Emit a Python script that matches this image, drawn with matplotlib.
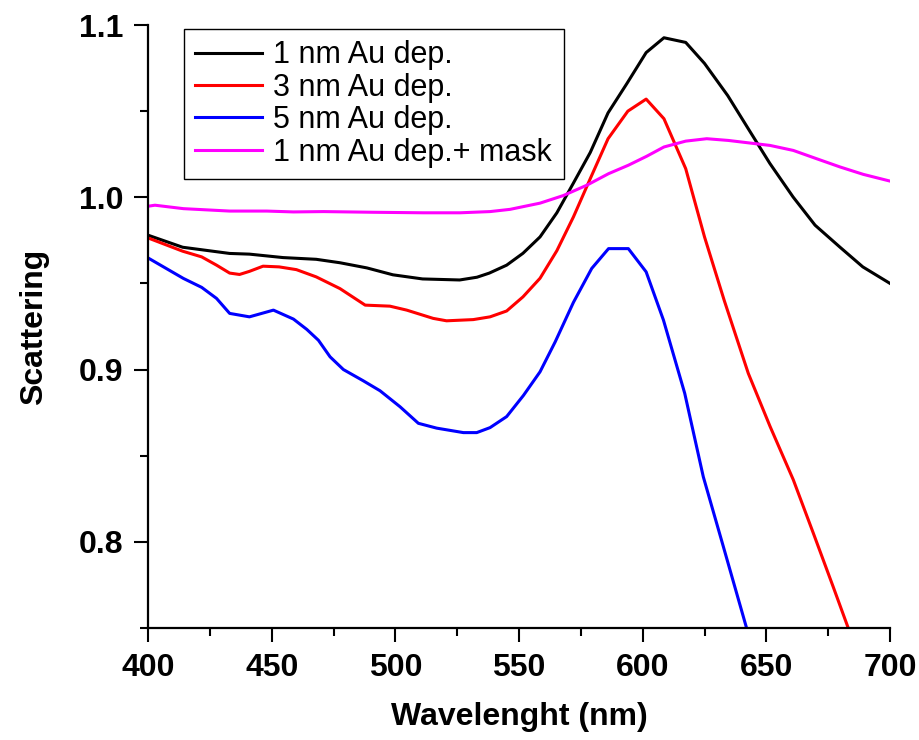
import matplotlib
matplotlib.use('Agg')
import matplotlib.pyplot as plt
from matplotlib.ticker import MultipleLocator

# scattering spectra, read per series
wl_1nm = [400, 414, 433, 441, 454.6, 468, 477.6, 488.5, 499, 511, 526, 533, 538, 545,
          551.6, 558.5, 565.3, 571.9, 578.8, 586, 593.6, 601.4, 608.6, 617.4, 625,
          634.4, 642.6, 651.4, 660.8, 669.7, 679.8, 689, 700]
sc_1nm = [0.978, 0.971, 0.9674, 0.967, 0.965, 0.964, 0.962, 0.959, 0.955, 0.9526, 0.952,
          0.9536, 0.956, 0.9606, 0.9675, 0.977, 0.991, 1.008, 1.026, 1.049, 1.066, 1.084,
          1.0926, 1.0899, 1.0777, 1.059, 1.040, 1.0197, 1.0002, 0.9838, 0.971, 0.9596, 0.950]

wl_3nm = [400, 414, 421.7, 427.7, 433, 437, 441, 446.5, 453, 460, 468, 477.6, 487.8,
          497.8, 504.6, 515.3, 520.7, 531.5, 538.3, 545, 551.6, 558.5, 565.3, 572,
          578.8, 586, 594, 601.4, 608.6, 617.4, 625, 633, 642.7, 651.5, 660.9, 669,
          677, 683.1]
sc_3nm = [0.9764, 0.9687, 0.9654, 0.9606, 0.956, 0.9552, 0.957, 0.960, 0.9596, 0.958,
          0.9538, 0.947, 0.9374, 0.9368, 0.9345, 0.9297, 0.9283, 0.929, 0.9306, 0.934,
          0.9422, 0.953, 0.969, 0.9886, 1.0108, 1.034, 1.050, 1.057, 1.0456, 1.0166,
          0.977, 0.940, 0.8978, 0.867, 0.836, 0.805, 0.774, 0.750]

wl_5nm = [400, 414.3, 421.7, 427.7, 433, 441, 450.7, 458.8, 464.2, 468.9, 473.6, 479,
          487, 493.8, 501.9, 509.3, 516.7, 527.5, 532.9, 538.3, 545, 551.8, 558.5,
          564.6, 572, 579.4, 586.2, 594.2, 601.4, 608.4, 617, 624.5, 632.6, 642]
sc_5nm = [0.9648, 0.9529, 0.9477, 0.9413, 0.9326, 0.9306, 0.9345, 0.9293, 0.9233,
          0.917, 0.9074, 0.900, 0.8935, 0.8877, 0.8784, 0.8688, 0.866, 0.8634, 0.8634,
          0.8663, 0.8727, 0.885, 0.8987, 0.916, 0.939, 0.9587, 0.9702, 0.9702, 0.9567,
          0.9287, 0.8862, 0.8378, 0.7973, 0.750]

wl_mask = [400, 402.8, 414.3, 433, 448, 458.8, 470.9, 491, 511.3, 526.2, 538.3, 546.4,
           558.5, 567.9, 577.4, 586.2, 594.2, 601.6, 608.6, 617.4, 625.9, 634.6, 651.5,
           660.9, 670.3, 679.8, 689.2, 700]
sc_mask = [0.9948, 0.9954, 0.9934, 0.992, 0.992, 0.9915, 0.9917, 0.9913, 0.991, 0.991,
           0.9917, 0.993, 0.9966, 1.001, 1.007, 1.0137, 1.0186, 1.0238, 1.0292, 1.0326,
           1.034, 1.033, 1.0301, 1.0272, 1.0224, 1.0176, 1.0133, 1.0094]

labels = ['1 nm Au dep.', '3 nm Au dep.', '5 nm Au dep.', '1 nm Au dep.+ mask']
colors = ['black', 'red', 'blue', 'magenta']

plt.rcParams['font.family'] = ['Liberation Sans', 'DejaVu Sans']

fig = plt.figure(figsize=(9.2, 7.4), dpi=100)
ax = fig.add_axes([0.1609, 0.1514, 0.8065, 0.8148])

series = [(wl_1nm, sc_1nm), (wl_3nm, sc_3nm), (wl_5nm, sc_5nm), (wl_mask, sc_mask)]
for (x, y), lab, col in zip(series, labels, colors):
    ax.plot(x, y, color=col, lw=2.2, label=lab)

ax.set_xlim(400, 700)
ax.set_ylim(0.75, 1.1)
ax.xaxis.set_major_locator(MultipleLocator(50))
ax.xaxis.set_minor_locator(MultipleLocator(25))
ax.yaxis.set_major_locator(MultipleLocator(0.1))
ax.yaxis.set_minor_locator(MultipleLocator(0.05))
ax.yaxis.set_major_formatter(matplotlib.ticker.FormatStrFormatter('%.1f'))

for side in ['top', 'right']:
    ax.spines[side].set_visible(False)
for side in ['left', 'bottom']:
    ax.spines[side].set_linewidth(1.6)

ax.tick_params(which='major', direction='out', length=10, width=1.5, pad=8)
ax.tick_params(which='minor', direction='out', length=6, width=1.5)
for t in ax.get_xticklabels() + ax.get_yticklabels():
    t.set_fontsize(23)
    t.set_fontweight('bold')

ax.set_xlabel('Wavelenght (nm)', fontsize=23, fontweight='bold', labelpad=14)
ax.set_ylabel('Scattering', fontsize=23, fontweight='bold', labelpad=21)

leg = ax.legend(loc='upper left', bbox_to_anchor=(0.048, 0.994), fontsize=22,
                handlelength=2.2, handletextpad=0.35, labelspacing=0.08,
                borderpad=0.38, borderaxespad=0, fancybox=False, framealpha=1)
leg.get_frame().set_edgecolor('black')
leg.get_frame().set_linewidth(1.0)

fig.savefig('out.png', dpi=100)
